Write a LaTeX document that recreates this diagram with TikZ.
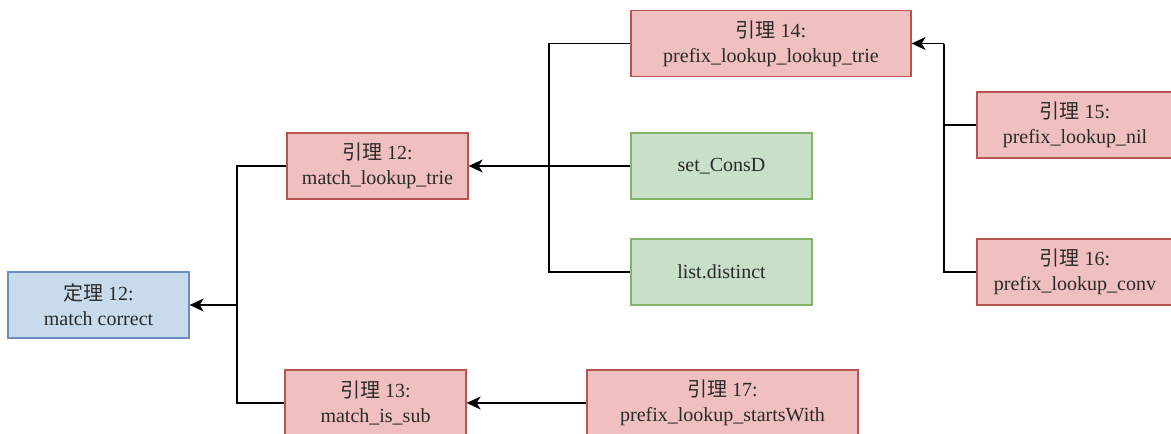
\documentclass[tikz,border=0pt]{standalone}
\usepackage{fontspec}
\setmainfont{Liberation Serif}
\newfontfamily\cjk{Noto Sans CJK SC}
\usetikzlibrary{arrows.meta}
\definecolor{redfill}{HTML}{F0BFBF}
\definecolor{redline}{HTML}{B85450}
\definecolor{bluefill}{HTML}{C8DBEC}
\definecolor{blueline}{HTML}{6C8EBF}
\definecolor{greenfill}{HTML}{C8DFCA}
\definecolor{greenline}{HTML}{82B366}
\definecolor{textgray}{HTML}{2A2A2A}
\begin{document}
\begin{tikzpicture}[x=1pt,y=-1pt,
  box/.style={draw, line width=1.3pt, align=center, inner sep=0pt,
    minimum height=66pt, font=\fontsize{20}{25}\selectfont, text=textgray},
  theorem/.style={box, fill=bluefill, draw=blueline},
  lemma/.style={box, fill=redfill, draw=redline},
  fact/.style={box, fill=greenfill, draw=greenline},
  link/.style={line width=1.4pt, draw=black},
  arr/.style={link, -{Stealth[length=14pt,width=13pt,inset=4pt]}}]
\useasboundingbox (0,0) rectangle (1171,434);

% theorem and lemmas
\node[theorem, minimum width=181pt] (t12) at (98.5,305) {{\cjk 定理} 12:\\match correct};
\node[lemma, minimum width=181pt] (l12) at (377.5,166) {{\cjk 引理} 12:\\match\_lookup\_trie};
\node[lemma, minimum width=181pt] (l13) at (375.5,403) {{\cjk 引理} 13:\\match\_is\_sub};
\node[lemma, minimum width=280pt] (l14) at (771,43.5) {{\cjk 引理} 14:\\prefix\_lookup\_lookup\_trie};
\node[fact, minimum width=181pt] (sc) at (721.5,166) {set\_ConsD};
\node[fact, minimum width=181pt] (ld) at (721.5,272) {list.distinct};
\node[lemma, minimum width=196pt] (l15) at (1075,125) {{\cjk 引理} 15:\\prefix\_lookup\_nil};
\node[lemma, minimum width=196pt] (l16) at (1075,272) {{\cjk 引理} 16:\\prefix\_lookup\_conv};
\node[lemma, minimum width=271pt] (l17) at (722.5,403) {{\cjk 引理} 17:\\prefix\_lookup\_startsWith};

% junction points of the orthogonal connectors
\coordinate (j1) at (237,305);
\coordinate (j2) at (549,166);
\coordinate (j3) at (944,43.5);

% dependencies
\draw[arr] (j1) -- (t12.east);
\draw[link] (l12.west) -| (j1);
\draw[link] (l13.west) -| (j1);

\draw[arr] (sc.west) -- (l12.east);
\draw[link] (l14.west) -| (j2);
\draw[link] (ld.west) -| (j2);

\draw[arr] (j3) -- (l14.east);
\draw[link] (l15.west) -| (j3);
\draw[link] (l16.west) -| (j3);

\draw[arr] (l17.west) -- (l13.east);
\end{tikzpicture}
\end{document}
